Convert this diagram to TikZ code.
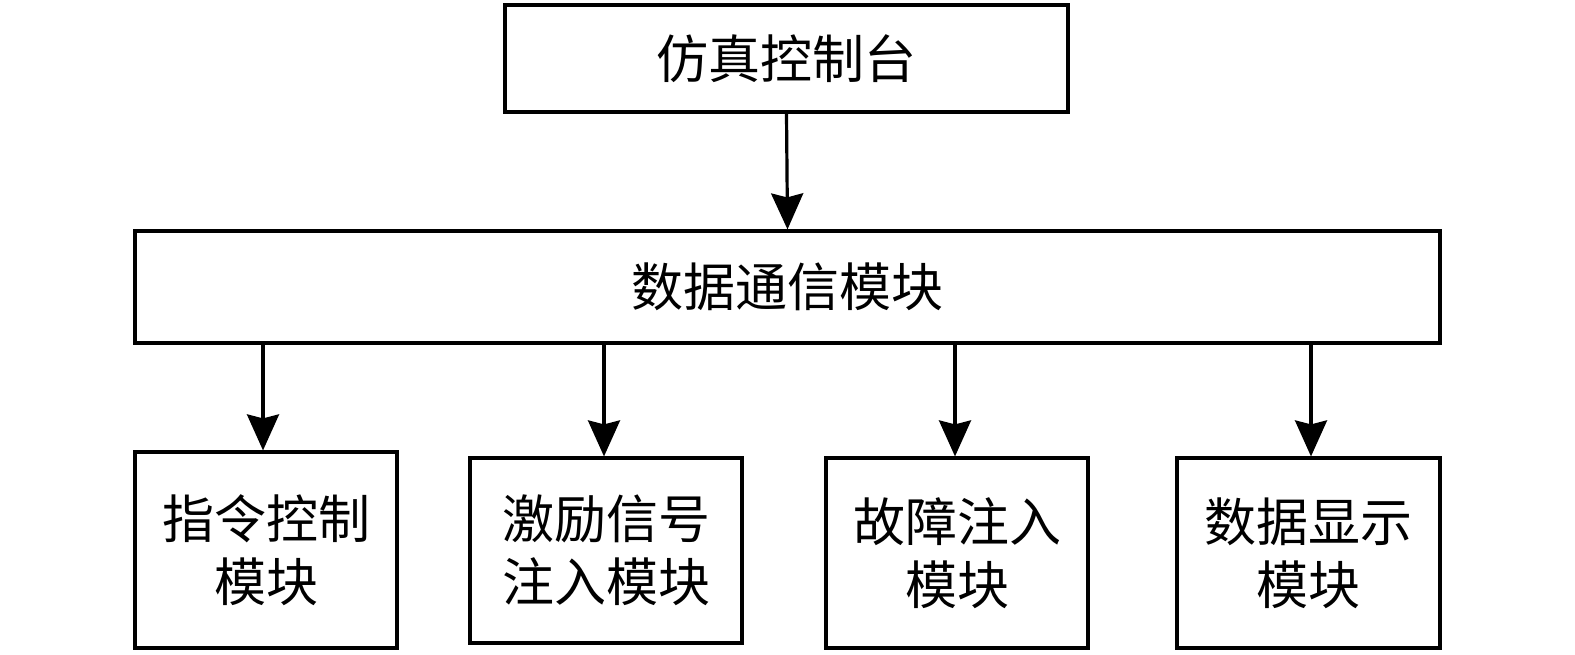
\documentclass[tikz,border=0pt]{standalone}
\usepackage{fontspec}
\newfontfamily\cjk{Noto Sans CJK SC}
\usetikzlibrary{arrows.meta}
\begin{document}
\begin{tikzpicture}[x=1pt,y=-1pt,
  box/.style={draw,line width=3.2pt,inner sep=0pt,font=\cjk\fontsize{52}{63}\selectfont,align=center},
  conn/.style={line width=3.2pt,-{Stealth[length=36pt,width=32pt,inset=4pt]}}]
\useasboundingbox (0,0) rectangle (1575,654);
\node[box,minimum width=563pt,minimum height=107pt] (top) at (786.5,58.5) {仿真控制台};
\node[box,minimum width=1305pt,minimum height=112pt] (comm) at (787.5,287) {数据通信模块};
\node[box,minimum width=262pt,minimum height=196pt] (b1) at (266,550) {指令控制\\模块};
\node[box,minimum width=272pt,minimum height=185pt] (b2) at (606,550.5) {激励信号\\注入模块};
\node[box,minimum width=262pt,minimum height=190pt] (b3) at (957,553) {故障注入\\模块};
\node[box,minimum width=263pt,minimum height=190pt] (b4) at (1308.5,553) {数据显示\\模块};
\draw[conn] (top.south) -- (comm.north);
\draw[conn] (comm.south -| 263,0) -- (b1.north -| 263,0);
\draw[conn] (comm.south -| 604,0) -- (b2.north -| 604,0);
\draw[conn] (comm.south -| 955,0) -- (b3.north -| 955,0);
\draw[conn] (comm.south -| 1311,0) -- (b4.north -| 1311,0);
\end{tikzpicture}
\end{document}
